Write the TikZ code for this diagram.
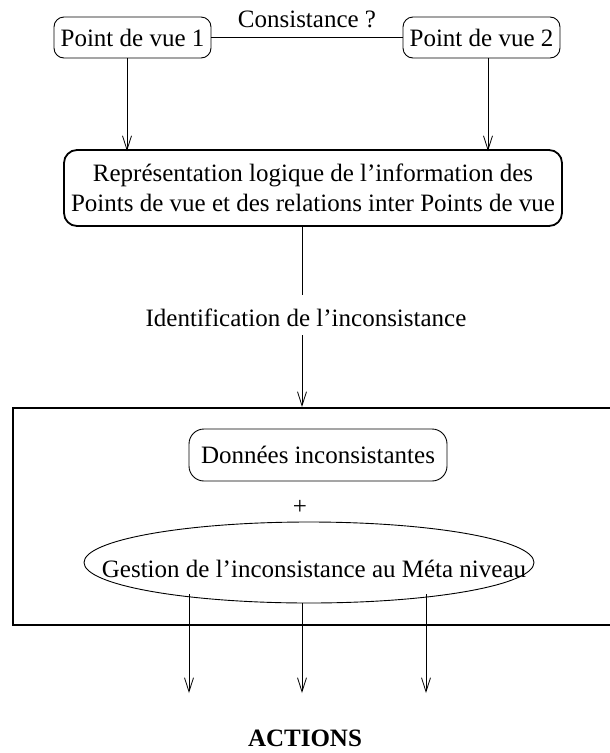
\documentclass[tikz,border=0pt]{standalone}
\usepackage{fontspec}
\setmainfont{Liberation Serif}
\usetikzlibrary{arrows.meta,shapes.geometric}
\begin{document}
\begin{tikzpicture}[x=1pt,y=-1pt,
  every node/.style={font=\fontsize{25}{30}\selectfont, inner sep=0pt},
  pvbox/.style={draw, line width=0.9pt, rounded corners=10pt, minimum width=157pt, minimum height=41pt},
  repbox/.style={draw, line width=1.8pt, rounded corners=13pt, minimum width=498pt, minimum height=76pt, align=center},
  donbox/.style={draw, line width=0.9pt, rounded corners=15pt, minimum width=258pt, minimum height=52pt},
  ellbox/.style={draw, ellipse, line width=0.9pt, minimum width=450pt, minimum height=81pt},
  arr/.style={line width=0.8pt, -{Straight Barb[length=14pt,width=9pt,line width=0.8pt]}},
  thinline/.style={line width=0.8pt}
]
\useasboundingbox (0,0) rectangle (610,753);

% top boxes
\node[pvbox] (pv1) at (132.5,37.5) {Point de vue 1};
\node[pvbox] (pv2) at (481.5,37.5) {Point de vue 2};
\draw[line width=1.6pt] (pv1.east) -- node[above=9pt] (cons) {Consistance ?} (pv2.west);

% representation box
\node[repbox] (rep) at (313,188) {Représentation logique de l'information des\\Points de vue et des relations inter Points de vue};

\coordinate (x1) at (127,0);
\coordinate (x2) at (488,0);
\draw[arr] (pv1.south -| x1) -- ([yshift=-2pt]rep.north -| x1);
\draw[arr] (pv2.south -| x2) -- ([yshift=-2pt]rep.north -| x2);

% identification
\coordinate (ax) at (302,0);
\node (idl) at (306,318) {Identification de l'inconsistance};
\coordinate (l1) at (302,295);
\coordinate (l2) at (302,335);
\coordinate (ftop) at (302,407);
\draw[thinline] (rep.south -| ax) -- (l1);
\draw[arr] (l2) -- (ftop);

% frame
\draw[line width=1.1pt] (611,408) -- (13,408) -- (13,625) -- (611,625);

% inner content
\node[donbox] (don) at (318,455) {Données inconsistantes};
\node (plus) at (300,507) {+};
\node[ellbox] (ell) at (309,562.5) {};
\node (gest) at (314,569) {Gestion de l'inconsistance au Méta niveau};

% actions
\node (act) at (305,738) {\bfseries ACTIONS};
\coordinate (s1) at (189,594);
\coordinate (s3) at (426,594);
\coordinate (t1) at (189,693);
\coordinate (t2) at (302,693);
\coordinate (t3) at (426,693);
\draw[arr] (s1) -- (t1);
\draw[arr] (ell.south -| ax) -- (t2);
\draw[arr] (s3) -- (t3);
\end{tikzpicture}
\end{document}
